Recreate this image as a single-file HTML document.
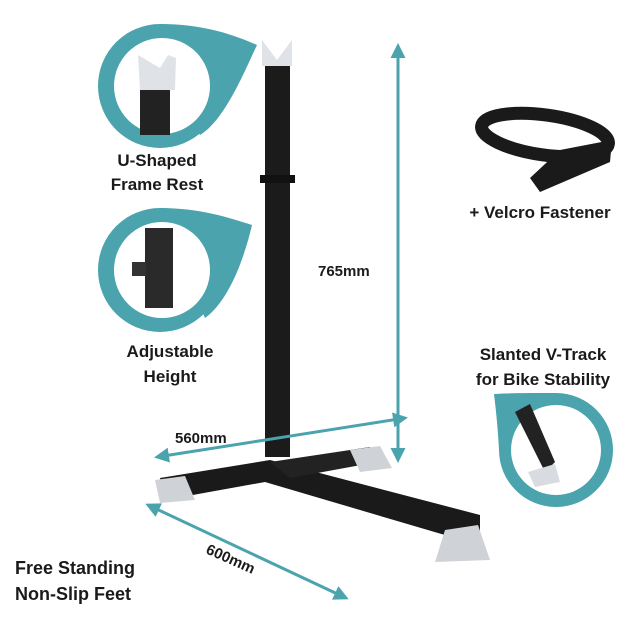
<!DOCTYPE html>
<html><head><style>
body{margin:0;background:#fff;}
svg{display:block;font-family:"Liberation Sans",sans-serif;}
text{font-weight:bold;fill:#1a1a1a;}
</style></head><body>
<svg width="640" height="640" viewBox="0 0 640 640">
<defs>
<marker id="a" viewBox="0 0 10 10" refX="8" refY="5" markerWidth="5" markerHeight="5" orient="auto-start-reverse"><path d="M0,0 L10,5 L0,10 z" fill="#4aa3ad"/></marker>
</defs>
<circle cx="160" cy="86" r="62" fill="#4aa3ad"/>
<path d="M160,24 C200,24 230,33 257,45 C245,70 225,120 200,135 Z" fill="#4aa3ad"/>
<circle cx="162" cy="86" r="48" fill="#fff"/>
<rect x="140" y="90" width="30" height="45" fill="#222"/>
<path d="M138,55 L160,68 L168,55 L176,58 L175,90 L140,90 Z" fill="#dfe3e8"/>
<circle cx="160" cy="270" r="62" fill="#4aa3ad"/>
<path d="M160,208 C200,208 230,218 252,225 C245,255 230,300 205,318 Z" fill="#4aa3ad"/>
<circle cx="162" cy="270" r="48" fill="#fff"/>
<rect x="145" y="228" width="28" height="80" fill="#2a2a2a"/>
<rect x="132" y="262" width="14" height="14" fill="#333"/>
<circle cx="556" cy="450" r="57" fill="#4aa3ad"/>
<path d="M556,393 C530,393 510,393 494,394 C496,410 498,430 499,450 Z" fill="#4aa3ad"/>
<circle cx="556" cy="450" r="45" fill="#fff"/>
<path d="M515,412 L530,404 L555,462 L545,472 Z" fill="#222"/>
<path d="M528,472 L555,464 L560,482 L535,487 Z" fill="#d8dce0"/>
<rect x="265" y="62" width="25" height="395" fill="#1b1b1b"/>
<rect x="260" y="175" width="35" height="8" fill="#111"/>
<path d="M262,40 L277,60 L292,40 L292,66 L262,66 Z" fill="#dfe3e8"/>
<path d="M160,478 L270,460 L480,515 L480,535 L455,538 L265,482 L165,500 Z" fill="#1a1a1a"/>
<path d="M270,462 L370,447 L372,463 L290,478 Z" fill="#222"/>
<path d="M155,480 L185,476 L195,500 L160,503 Z" fill="#cfd3d7"/>
<path d="M350,450 L380,446 L392,468 L360,472 Z" fill="#cfd3d7"/>
<path d="M445,530 L478,525 L490,560 L435,562 Z" fill="#cfd3d7"/>
<ellipse cx="545" cy="135" rx="64" ry="20" transform="rotate(8 545 135)" fill="none" stroke="#1a1a1a" stroke-width="13"/>
<path d="M560,150 L612,140 L610,162 L540,192 L530,178 Z" fill="#1a1a1a"/>
<line x1="398" y1="46" x2="398" y2="460" stroke="#4aa3ad" stroke-width="3" marker-start="url(#a)" marker-end="url(#a)"/>
<line x1="157" y1="457" x2="405" y2="418" stroke="#4aa3ad" stroke-width="3" marker-start="url(#a)" marker-end="url(#a)"/>
<line x1="148" y1="505" x2="346" y2="598" stroke="#4aa3ad" stroke-width="3" marker-start="url(#a)" marker-end="url(#a)"/>
<text x="318" y="276" font-size="15">765mm</text>
<text x="175" y="443" font-size="15">560mm</text>
<text x="205" y="553" font-size="15" transform="rotate(24 205 553)">600mm</text>
<text x="157" y="166" font-size="17" text-anchor="middle">U-Shaped</text>
<text x="157" y="190" font-size="17" text-anchor="middle">Frame Rest</text>
<text x="170" y="357" font-size="17" text-anchor="middle">Adjustable</text>
<text x="170" y="382" font-size="17" text-anchor="middle">Height</text>
<text x="540" y="218" font-size="17" text-anchor="middle">+ Velcro Fastener</text>
<text x="543" y="360" font-size="17" text-anchor="middle">Slanted V-Track</text>
<text x="543" y="385" font-size="17" text-anchor="middle">for Bike Stability</text>
<text x="15" y="574" font-size="18">Free Standing</text>
<text x="15" y="600" font-size="18">Non-Slip Feet</text>
</svg>
</body></html>
